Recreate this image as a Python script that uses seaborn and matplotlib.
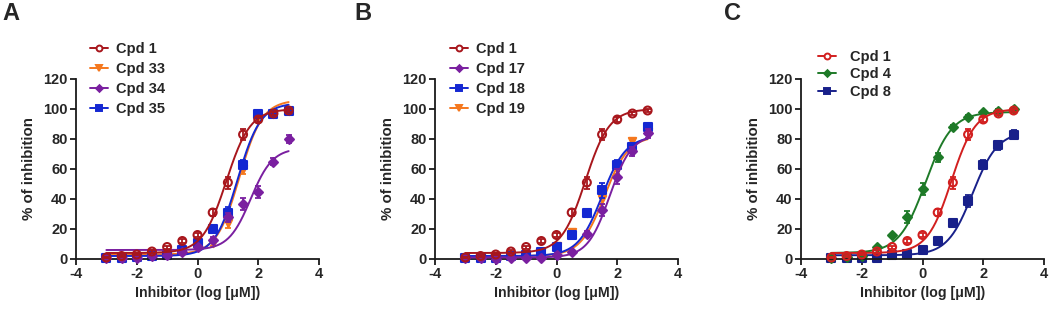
import numpy as np
import pandas as pd
import matplotlib
matplotlib.use("Agg")
import matplotlib.pyplot as plt
import seaborn as sns
from matplotlib.lines import Line2D

# ---------------- data ----------------
log_conc = [-3, -2.5, -2, -1.5, -1, -0.5, 0, 0.5, 1, 1.5, 2, 2.5, 3]

cpd1_mean = [1, 2, 3, 5, 8, 12, 16, 31, 51, 83, 93, 97, 99]
cpd1_err = [0.5, 0.5, 0.5, 0.8, 1, 1.5, 1.5, 2.5, 4, 3.5, 1.5, 1, 1]

cpd33_mean = [1, 1, 1, 2, 3, 5, 9, 11, 24, 60, 95, 97, 99]
cpd33_err = [0.5, 0.5, 0.5, 0.5, 0.5, 1, 1.5, 2.5, 3, 3, 1.5, 1, 1]
cpd34_mean = [1, 1, 1, 2, 3, 5, 8, 13, 28, 37, 45, 65, 80]
cpd34_err = [0.5, 0.5, 0.5, 0.5, 0.5, 1, 1, 2, 3, 4, 4, 2.5, 2.5]
cpd35_mean = [1, 1, 1.5, 2, 3, 6, 11, 20, 31, 63, 97, 97, 99]
cpd35_err = [0.5, 0.5, 0.5, 0.5, 0.5, 1, 1.5, 2, 4, 3, 1.5, 1, 1]

cpd17_mean = [0.5, 0.5, 0, 0.5, 1, 1, 3, 5, 17, 33, 55, 72, 84]
cpd17_err = [0.5, 0.5, 0.5, 0.5, 0.5, 0.5, 1, 1, 1.5, 4, 5, 3, 3]
cpd18_mean = [1, 1, 1, 2, 3, 5, 8, 16, 31, 46, 63, 75, 88]
cpd18_err = [0.5, 0.5, 0.5, 0.5, 0.5, 1, 1.5, 1.5, 2, 5, 3, 2, 2]
cpd19_mean = [1, 1, 2, 2, 3, 4, 9, 18, 31, 40, 60, 79, 85]
cpd19_err = [0.5, 0.5, 0.5, 0.5, 0.5, 1, 1.5, 1.5, 2, 3, 3, 2, 2]

cpd4_mean = [1, 1.5, 2, 8, 16, 28, 47, 68, 88, 95, 98, 99, 100]
cpd4_err = [0.5, 0.5, 0.5, 1, 1, 4, 4, 3, 1.5, 1, 1, 1, 1]
cpd8_mean = [1, 1, 1, 1, 2.5, 3.5, 6, 12, 24, 39, 63, 76, 83]
cpd8_err = [0.5, 0.5, 0.5, 0.5, 0.5, 0.5, 1, 1, 2, 4, 3, 3, 3]

# fitted 4-parameter logistic parameters: bottom, top, logIC50, hill
fit_cpd1 = [4, 100, 0.95, 1.1]
fit_cpd33 = [3, 106, 1.38, 1.15]
fit_cpd34 = [6, 74, 1.75, 1.2]
fit_cpd35 = [2, 104, 1.32, 1.15]
fit_cpd17 = [1, 83, 1.75, 1.2]
fit_cpd18 = [2, 82, 1.5, 1.1]
fit_cpd19 = [2, 82, 1.58, 1.1]
fit_cpd4 = [4, 98, 0.1, 1.0]
fit_cpd8 = [2.5, 85, 1.65, 1.05]

panel_letters = ["A", "B", "C"]
x_ticks = [-4, -2, 0, 2, 4]
y_ticks = [0, 20, 40, 60, 80, 100, 120]

# ---------------- style ----------------
sns.set_theme(style="ticks")
plt.rcParams["font.family"] = ["Liberation Sans", "DejaVu Sans"]
plt.rcParams["font.weight"] = "bold"
plt.rcParams["axes.labelweight"] = "bold"

RED_DARK = "#A8161C"
RED = "#D21F1F"
ORANGE = "#F5781E"
PURPLE = "#7A1FA0"
BLUE = "#1428D2"
NAVY = "#18208A"
GREEN = "#1E7A28"

panels = [
    dict(series=[
        ("Cpd 33", cpd33_mean, cpd33_err, fit_cpd33, ORANGE, "v", True, 1),
        ("Cpd 35", cpd35_mean, cpd35_err, fit_cpd35, BLUE, "s", True, 2),
        ("Cpd 34", cpd34_mean, cpd34_err, fit_cpd34, PURPLE, "D", True, 3),
        ("Cpd 1", cpd1_mean, cpd1_err, fit_cpd1, RED_DARK, "o", False, 4),
    ], order=["Cpd 1", "Cpd 33", "Cpd 34", "Cpd 35"], leg=(0.058, 1.207), pad=0.6, spacing=0.42),
    dict(series=[
        ("Cpd 19", cpd19_mean, cpd19_err, fit_cpd19, ORANGE, "v", True, 1),
        ("Cpd 18", cpd18_mean, cpd18_err, fit_cpd18, BLUE, "s", True, 2),
        ("Cpd 17", cpd17_mean, cpd17_err, fit_cpd17, PURPLE, "D", True, 3),
        ("Cpd 1", cpd1_mean, cpd1_err, fit_cpd1, RED_DARK, "o", False, 4),
    ], order=["Cpd 1", "Cpd 17", "Cpd 18", "Cpd 19"], leg=(0.062, 1.207), pad=0.6, spacing=0.42),
    dict(series=[
        ("Cpd 8", cpd8_mean, cpd8_err, fit_cpd8, NAVY, "s", True, 1),
        ("Cpd 4", cpd4_mean, cpd4_err, fit_cpd4, GREEN, "D", True, 2),
        ("Cpd 1", cpd1_mean, cpd1_err, fit_cpd1, RED, "o", False, 3),
    ], order=["Cpd 1", "Cpd 4", "Cpd 8"], leg=(0.07, 1.163), pad=1.0, spacing=0.25),
]

fig = plt.figure(figsize=(10.5, 3.12), dpi=100)
lefts = [76, 435, 801]
letter_x = [2, 354, 724]
W, H = 1050, 312
ax_w = 243
ax_top, ax_bot = 79, 259

xfit = np.linspace(-3, 3, 300)

for i, panel in enumerate(panels):
    ax = fig.add_axes([lefts[i] / W, (H - ax_bot) / H, ax_w / W, (ax_bot - ax_top) / H])
    handles = {}
    for name, mean, err, fit, color, marker, filled, z in panel["series"]:
        b, t, ic, h = fit
        yfit = b + (t - b) / (1 + 10 ** ((ic - xfit) * h))
        curve = pd.DataFrame({"x": xfit, "y": yfit})
        sns.lineplot(data=curve, x="x", y="y", ax=ax, color=color, lw=1.4,
                     zorder=z, legend=False)
        ms = 5.0 if marker == "o" else (4.6 if marker in ("s", "v") else 4.0)
        ax.errorbar(log_conc, mean, yerr=err, fmt="none", ecolor=color,
                    elinewidth=1.3, capsize=2.5, capthick=1.3, zorder=z + 0.1)
        pts = pd.DataFrame({"x": log_conc, "y": mean})
        sns.scatterplot(data=pts, x="x", y="y", ax=ax, marker=marker,
                        s=ms ** 2 * 1.3,
                        facecolor=color if filled else "none",
                        edgecolor=color, linewidth=1.5, zorder=z + 0.2,
                        legend=False)
        handles[name] = Line2D([0], [0], color=color, lw=1.4, marker=marker,
                               markersize=ms * 0.85,
                               markerfacecolor=color if filled else "white",
                               markeredgecolor=color, markeredgewidth=1.4)
    ax.legend([handles[n] for n in panel["order"]], panel["order"],
              loc="upper left", bbox_to_anchor=panel["leg"], frameon=False,
              borderpad=0, borderaxespad=0, handlelength=1.2,
              handletextpad=panel["pad"], labelspacing=panel["spacing"],
              prop=dict(weight="bold", size=10.5))
    ax.set_xlim(-4, 4)
    ax.set_ylim(0, 120)
    ax.set_xticks(x_ticks)
    ax.set_yticks(y_ticks)
    ax.set_xticklabels([str(v) for v in x_ticks], fontsize=10.5, fontweight="bold")
    ax.set_yticklabels([str(v) for v in y_ticks], fontsize=10.5, fontweight="bold")
    ax.set_xlabel("Inhibitor (log [\u03bcM])", fontsize=10.2, fontweight="bold", labelpad=3)
    ax.set_ylabel("% of inhibition", fontsize=10.8, fontweight="bold", labelpad=5)
    sns.despine(ax=ax)
    for s in ("left", "bottom"):
        ax.spines[s].set_linewidth(1.3)
        ax.spines[s].set_color("#1a1a1a")
    ax.tick_params(width=1.3, length=4, color="#1a1a1a", pad=2)
    for c in ax.get_children():
        try:
            c.set_clip_on(False)
        except Exception:
            pass
    fig.text(letter_x[i] / W, 1 - 2 / H, panel_letters[i], fontsize=17,
             fontweight="bold", va="top", ha="left")

fig.savefig("out.png", dpi=100)
